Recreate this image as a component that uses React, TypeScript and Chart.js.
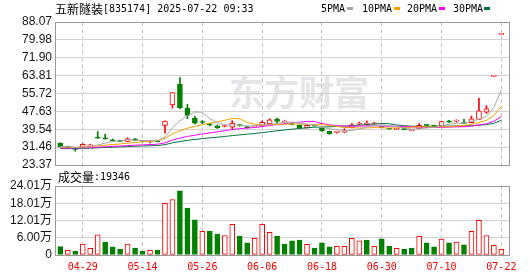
import React, { useEffect, useRef } from 'react';
import { Chart, registerables } from 'chart.js';

Chart.register(...registerables);

// ---------------- data ----------------
const stockName = '五新隧装';
const stockInfo = '[835174] 2025-07-22 09:33';
const watermark = '东方财富';
const volumeTitle = '成交量';
const latestVolume = '19346';
const maNames = ['5PMA', '10PMA', '20PMA', '30PMA'];

const dates = [
  '04-24', '04-25', '04-28', '04-29', '04-30', '05-06', '05-07', '05-08', '05-09', '05-12',
  '05-13', '05-14', '05-15', '05-16', '05-19', '05-20', '05-21', '05-22', '05-23', '05-26',
  '05-27', '05-28', '05-29', '05-30', '06-03', '06-04', '06-05', '06-06', '06-09', '06-10',
  '06-11', '06-12', '06-13', '06-16', '06-17', '06-18', '06-19', '06-20', '06-23', '06-24',
  '06-25', '06-26', '06-27', '06-30', '07-01', '07-02', '07-03', '07-04', '07-07', '07-08',
  '07-09', '07-10', '07-11', '07-14', '07-15', '07-16', '07-17', '07-18', '07-21', '07-22',
];
const xTickIndex = [3, 11, 19, 27, 35, 43, 51, 59];

const opens = [
  33.3, 31.8, 31.0, 31.6, 31.7, 35.6, 35.3, 34.8, 34.5, 34.0,
  35.2, 34.3, 33.9, 34.2, 41.3, 50.6, 59.9, 49.1, 44.6, 42.9,
  41.7, 41.1, 40.8, 40.5, 41.5, 40.6, 40.6, 41.0, 42.0, 44.0,
  42.8, 41.9, 41.3, 40.2, 41.2, 40.0, 38.6, 38.1, 38.2, 40.3,
  41.8, 41.9, 41.9, 40.6, 39.8, 39.5, 39.6, 38.9, 39.8, 41.4,
  41.0, 41.0, 43.4, 43.2, 42.3, 42.5, 44.0, 47.3, 63.44, 82.47,
];
const highs = [
  33.4, 31.9, 31.1, 33.0, 32.8, 38.5, 37.2, 35.1, 34.6, 35.7,
  35.3, 34.4, 34.5, 34.3, 43.4, 56.1, 62.9, 50.8, 45.4, 43.5,
  42.2, 41.5, 41.4, 43.4, 41.7, 40.9, 41.0, 43.4, 44.3, 44.6,
  43.5, 42.1, 41.5, 41.4, 41.4, 40.1, 38.7, 38.5, 39.8, 42.1,
  42.8, 43.3, 42.7, 40.7, 39.9, 39.9, 39.7, 39.0, 42.1, 41.4,
  41.3, 43.1, 43.6, 43.8, 44.0, 45.5, 53.5, 50.2, 63.44, 82.47,
];
const lows = [
  31.5, 31.0, 29.6, 31.5, 31.6, 35.4, 35.1, 34.2, 33.9, 33.9,
  34.4, 33.9, 33.4, 33.7, 37.8, 49.1, 48.8, 44.3, 42.0, 42.0,
  41.0, 39.9, 40.6, 39.8, 40.9, 40.1, 40.4, 40.7, 41.7, 42.4,
  42.5, 41.5, 39.8, 40.1, 40.9, 38.6, 37.2, 37.8, 38.0, 40.2,
  41.5, 41.3, 41.8, 40.2, 39.5, 39.4, 39.3, 38.8, 39.7, 40.6,
  40.9, 40.9, 42.6, 42.8, 42.1, 42.4, 43.9, 46.7, 63.44, 82.47,
];
const closes = [
  31.6, 31.1, 30.4, 32.7, 32.5, 35.5, 35.2, 34.3, 34.0, 35.2,
  34.5, 34.1, 34.1, 33.9, 43.2, 56.1, 49.3, 45.8, 42.3, 42.6,
  41.5, 40.3, 41.0, 42.3, 41.2, 40.3, 40.8, 42.7, 43.8, 43.1,
  42.9, 41.7, 40.0, 41.3, 41.0, 38.8, 37.6, 38.2, 38.9, 41.6,
  41.9, 41.95, 42.1, 40.3, 39.6, 39.7, 39.4, 38.95, 41.3, 41.3,
  40.9, 43.0, 42.7, 43.3, 42.2, 44.3, 47.9, 48.8, 63.44, 82.47,
];
// volume in 万 (10k shares)
const volumes = [
  2.9, 1.6, 1.4, 3.8, 2.3, 7.0, 4.5, 2.8, 2.1, 3.8,
  2.4, 1.4, 1.6, 1.7, 18.0, 19.3, 22.3, 16.3, 12.2, 8.2,
  8.3, 7.3, 6.8, 10.7, 6.6, 4.2, 5.8, 10.7, 7.9, 6.6,
  3.8, 4.9, 5.2, 3.7, 2.4, 4.2, 2.8, 3.0, 3.0, 5.8,
  4.9, 5.2, 3.0, 5.6, 3.1, 2.3, 2.1, 2.4, 6.5, 4.2,
  2.8, 5.5, 4.2, 4.5, 3.5, 8.2, 12.1, 6.8, 3.4, 1.93,
];
// 1 = rising day (red hollow volume bar), 0 = falling (green)
const volRise = [
  0, 1, 0, 1, 1, 1, 0, 0, 0, 1,
  0, 0, 1, 0, 1, 1, 0, 0, 0, 1,
  0, 0, 1, 1, 0, 0, 1, 1, 1, 0,
  0, 0, 0, 1, 0, 0, 0, 1, 1, 1,
  1, 0, 1, 0, 0, 1, 0, 0, 1, 0,
  0, 1, 0, 1, 0, 1, 1, 1, 1, 1,
];
const ma5Head = [31.76, 31.62, 31.34, 31.52];
const ma10Head = [31.51, 31.47, 31.36, 31.48, 31.58, 31.98, 32.35, 32.63, 32.88];
const ma20Head = [
  31.04, 31.05, 31.02, 31.11, 31.18, 31.41, 31.62, 31.78, 31.93, 32.14,
  32.32, 32.47, 32.63, 32.77, 33.38, 34.63, 35.54, 36.28, 36.84,
];
const ma30Head = [
  30.77, 30.8, 30.8, 30.89, 30.96, 31.14, 31.31, 31.44, 31.57, 31.73,
  31.88, 31.98, 32.08, 32.18, 32.58, 33.42, 34.03, 34.52, 34.9, 35.29,
  35.64, 35.95, 36.28, 36.66, 37.0, 37.31, 37.63, 38.02, 38.45,
];
const priceTicks = [23.37, 31.46, 39.54, 47.63, 55.72, 63.81, 71.9, 79.98, 88.07];
const volTicks = [0, 6.0, 12.01, 18.01, 24.01];

// ---------------- styling ----------------
const RED = '#ff0000';
const GREEN = '#008000';
const MA_COLORS = ['#a8a8a8', '#f5a000', '#ff00ff', '#00773a'];
const X_MIN = -0.71;
const X_MAX = 60.02;
const AXIS_FONT = { family: '"Liberation Sans", "Noto Sans CJK SC", sans-serif', size: 12 };
const MONO = '"DejaVu Sans Mono", monospace';
const CJK = '"Noto Sans CJK SC", sans-serif';

function movingAverage(n: number, head: number[]) {
  return closes.map((_, i) => {
    if (i < n - 1) return head[i];
    let s = 0;
    for (let k = i - n + 1; k <= i; k++) s += closes[k];
    return s / n;
  });
}

const panelBorder = {
  id: 'panelBorder',
  afterDraw(chart: any) {
    const { ctx, chartArea: a } = chart;
    ctx.save();
    ctx.strokeStyle = '#999999';
    ctx.lineWidth = 1;
    const l = Math.round(a.left), t = Math.round(a.top), r = Math.round(a.right), b = Math.round(a.bottom);
    ctx.strokeRect(l + 0.5, t + 0.5, r - l, b - t);
    ctx.restore();
  },
};

const headerPlugin = {
  id: 'header',
  beforeDraw(chart: any) {
    const ctx = chart.ctx;
    ctx.save();
    ctx.fillStyle = '#e4e4e9';
    ctx.font = `bold 35px ${CJK}`;
    ctx.textBaseline = 'middle';
    ctx.textAlign = 'left';
    ctx.fillText(watermark, 229, 93);
    ctx.restore();
  },
  afterDraw(chart: any) {
    const ctx = chart.ctx;
    ctx.save();
    ctx.fillStyle = '#000';
    ctx.textBaseline = 'middle';
    ctx.textAlign = 'left';
    ctx.font = `12px ${CJK}`;
    ctx.fillText(stockName, 55, 9);
    const w = ctx.measureText(stockName).width;
    ctx.font = `10px ${MONO}`;
    ctx.fillText(stockInfo, 55 + w, 9);
    const textX = [321, 362, 407, 453];
    const markX = [347, 394, 439, 484];
    maNames.forEach((n, i) => {
      ctx.fillStyle = '#000';
      ctx.fillText(n, textX[i], 9);
      ctx.fillStyle = MA_COLORS[i];
      ctx.fillRect(markX[i], 7, 6, 3);
    });
    ctx.restore();
  },
};

const volumeHeader = {
  id: 'volumeHeader',
  afterDraw(chart: any) {
    const ctx = chart.ctx;
    ctx.save();
    ctx.fillStyle = '#000';
    ctx.textBaseline = 'middle';
    ctx.textAlign = 'left';
    ctx.font = `12px ${CJK}`;
    ctx.fillText(volumeTitle, 58, 9);
    const w = ctx.measureText(volumeTitle).width;
    ctx.font = `10px ${MONO}`;
    ctx.fillText(':' + latestVolume, 58 + w, 9);
    ctx.restore();
  },
};

function xScale(showLabels: boolean): any {
  return {
    type: 'linear',
    min: X_MIN,
    max: X_MAX,
    offset: false,
    afterBuildTicks: (s: any) => {
      s.ticks = xTickIndex.map((v) => ({ value: v }));
    },
    afterFit: (s: any) => {
      s.height = showLabels ? 21 : 0;
      s.paddingLeft = 0;
      s.paddingRight = 0;
    },
    grid: { color: '#c4c4c4', lineWidth: 1, drawTicks: false, offset: false },
    border: { display: false, dash: [4, 3] },
    ticks: showLabels
      ? {
          display: true,
          autoSkip: false,
          maxRotation: 0,
          padding: 6,
          color: RED,
          font: { family: MONO, size: 10 },
          callback: (v: any) => dates[v] ?? '',
        }
      : { display: false },
  };
}

function yAfterFit(s: any) {
  s.width = 55;
  s.paddingTop = 0;
  s.paddingBottom = 0;
}

export default function App() {
  const topRef = useRef<HTMLCanvasElement>(null);
  const botRef = useRef<HTMLCanvasElement>(null);

  useEffect(() => {
    const idx = closes.map((_, i) => i);
    const up = idx.map((i) => closes[i] >= opens[i]);
    const mas = [
      movingAverage(5, ma5Head),
      movingAverage(10, ma10Head),
      movingAverage(20, ma20Head),
      movingAverage(30, ma30Head),
    ];

    const priceChart = new Chart(topRef.current as HTMLCanvasElement, {
      type: 'bar',
      data: {
        datasets: [
          ...mas.map((m, k) => ({
            type: 'line' as const,
            label: maNames[k],
            data: m.map((v, i) => ({ x: i, y: v })),
            borderColor: MA_COLORS[k],
            borderWidth: 1,
            pointRadius: 0,
            tension: 0,
            order: 0,
          })),
          {
            type: 'bar' as const,
            label: 'body',
            data: idx.map((i) => ({ x: i, y: [opens[i], closes[i]] })),
            backgroundColor: up.map((u) => (u ? '#ffffff' : GREEN)),
            borderColor: up.map((u) => (u ? RED : GREEN)),
            borderWidth: 1,
            borderSkipped: false,
            barThickness: 5,
            minBarLength: 1,
            grouped: false,
            order: 1,
          },
          {
            type: 'bar' as const,
            label: 'wick',
            data: idx.map((i) => ({ x: i, y: [lows[i], highs[i]] })),
            backgroundColor: up.map((u) => (u ? RED : GREEN)),
            borderWidth: 0,
            barThickness: 1,
            grouped: false,
            order: 2,
          },
        ] as any,
      },
      options: {
        animation: false,
        responsive: false,
        maintainAspectRatio: false,
        events: [],
        layout: { padding: { left: 0, right: 21, top: 22, bottom: 11 } },
        plugins: { legend: { display: false }, tooltip: { enabled: false }, title: { display: false } },
        scales: {
          x: xScale(false),
          y: {
            type: 'linear',
            min: priceTicks[0],
            max: priceTicks[priceTicks.length - 1],
            afterBuildTicks: (s: any) => {
              s.ticks = priceTicks.map((v) => ({ value: v }));
            },
            afterFit: yAfterFit,
            grid: { color: '#d2d2d2', lineWidth: 1, drawTicks: false },
            border: { display: false },
            ticks: {
              autoSkip: false,
              padding: 3,
              color: '#151515',
              font: AXIS_FONT,
              callback: (v: any) => Number(v).toFixed(2),
            },
          },
        } as any,
      },
      plugins: [headerPlugin, panelBorder],
    });

    const volumeChart = new Chart(botRef.current as HTMLCanvasElement, {
      type: 'bar',
      data: {
        datasets: [
          {
            label: volumeTitle,
            data: idx.map((i) => ({ x: i, y: volumes[i] })),
            backgroundColor: volRise.map((r) => (r ? '#ffffff' : GREEN)),
            borderColor: volRise.map((r) => (r ? RED : GREEN)),
            borderWidth: 1,
            borderSkipped: false,
            barThickness: 5,
            grouped: false,
          },
        ] as any,
      },
      options: {
        animation: false,
        responsive: false,
        maintainAspectRatio: false,
        events: [],
        layout: { padding: { left: 0, right: 21, top: 18, bottom: 0 } },
        plugins: { legend: { display: false }, tooltip: { enabled: false }, title: { display: false } },
        scales: {
          x: xScale(true),
          y: {
            type: 'linear',
            min: 0,
            max: volTicks[volTicks.length - 1],
            afterBuildTicks: (s: any) => {
              s.ticks = volTicks.map((v) => ({ value: v }));
            },
            afterFit: yAfterFit,
            grid: { color: '#d2d2d2', lineWidth: 1, drawTicks: false },
            border: { display: false },
            ticks: {
              autoSkip: false,
              padding: 3,
              color: '#151515',
              font: AXIS_FONT,
              callback: (v: any) => (Number(v) === 0 ? '0' : Number(v).toFixed(2) + '万'),
            },
          },
        } as any,
      },
      plugins: [volumeHeader, panelBorder],
    });

    return () => {
      priceChart.destroy();
      volumeChart.destroy();
    };
  }, []);

  return (
    <div style={{ position: 'absolute', left: 0, top: 0, width: 530, height: 276, background: '#ffffff' }}>
      <canvas
        ref={topRef}
        width={530}
        height={176}
        style={{ position: 'absolute', left: 0, top: 0, width: 530, height: 176, display: 'block' }}
      />
      <canvas
        ref={botRef}
        width={530}
        height={108}
        style={{ position: 'absolute', left: 0, top: 168, width: 530, height: 108, display: 'block' }}
      />
    </div>
  );
}
